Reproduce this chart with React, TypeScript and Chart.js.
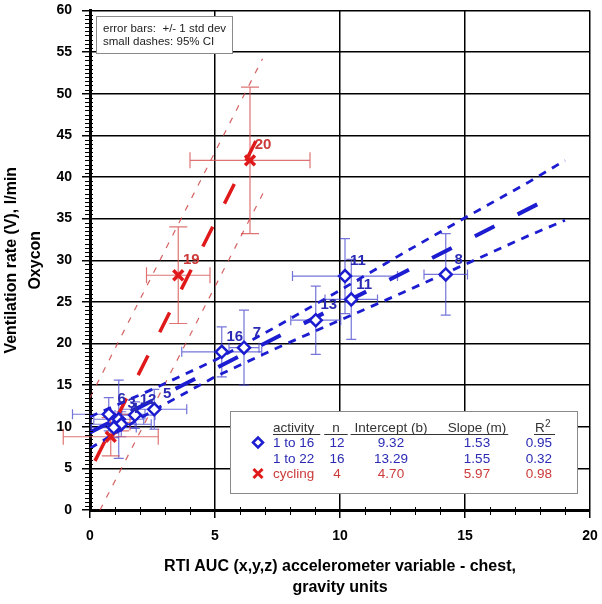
import React, { useEffect, useRef } from "react";
import { Chart, registerables } from "chart.js";

Chart.register(...registerables);

const FONT = "'Liberation Sans', Arial, Helvetica, sans-serif";

// ---- data ----
const blueLabels = ["6", "3", "4", "12", "5", "16", "7", "13", "11", "11", "8", ""];
const blueX = [0.75, 1.15, 1.25, 1.8, 2.57, 5.27, 6.16, 9.03, 10.2, 10.45, 14.23, 0.95];
const blueY = [11.5, 10.9, 10.3, 11.4, 12.1, 19.0, 19.5, 22.8, 28.1, 25.3, 28.3, 9.9];
const blueXErr = [1.45, 1.0, 1.2, 0.8, 1.3, 1.6, 0.6, 1.0, 2.1, 1.05, 0.87, 0.9];
const blueYErr = [2.0, 4.7, 1.5, 1.6, 2.4, 3.0, 4.5, 4.1, 4.5, 4.8, 4.9, 1.2];

const redLabels = ["", "", "19", "20"];
const redX = [0.83, 1.2, 3.53, 6.4];
const redY = [8.8, 10.5, 28.2, 42.0];
const redXErr = [1.9, 0.4, 1.27, 2.4];
const redYErr = [2.3, 1.0, 5.8, 8.8];

const blueFitX = [0, 18.6];
const blueFitY = [9.32, 37.8];
const blueCiX = [0, 2.5, 5, 7.5, 10, 12.5, 15, 17.5, 19];
const blueCiUpper = [11.2, 14.5, 18.0, 22.1, 26.4, 30.8, 35.1, 39.3, 42.0];
const blueCiLower = [7.4, 11.9, 16.0, 19.5, 22.8, 26.1, 29.5, 32.9, 34.8];

const redFitX = [0.2, 6.9];
const redFitY = [5.9, 45.9];
const redCiUpperX = [0.0, 6.9];
const redCiUpperY = [13.5, 54.2];
const redCiLowerX = [0.4, 7.0];
const redCiLowerY = [0.0, 38.5];

const noteLines = ["error bars:  +/- 1 std dev", "small dashes: 95% CI"];

const legendHeaders = ["activity", "n", "Intercept (b)", "Slope (m)", "R"];
const legendActivity = ["1 to 16", "1 to 22", "cycling"];
const legendN = ["12", "16", "4"];
const legendIntercept = ["9.32", "13.29", "4.70"];
const legendSlope = ["1.53", "1.55", "5.97"];
const legendR2 = ["0.95", "0.32", "0.98"];

const xTitle = ["RTI AUC (x,y,z) accelerometer variable - chest,", "gravity units"];
const yTitle = ["Ventilation rate (V), l/min", "Oxycon"];

const X_MIN = 0, X_MAX = 20, X_STEP = 5, X_MINOR = 1;
const Y_MIN = 0, Y_MAX = 60, Y_STEP = 5, Y_MINOR = 0.5;

const BLUE = "#1c1cd0";
const BLUE_TEXT = "#2a2ab4";
const RED = "#e01a1a";
const RED_TEXT = "#cc3a3a";

function pts(xs: number[], ys: number[]) {
  return xs.map((x, i) => ({ x, y: ys[i] }));
}

const errorBarPlugin = {
  id: "errorBars",
  beforeDatasetsDraw(chart: any) {
    const { ctx } = chart;
    const sx = chart.scales.x, sy = chart.scales.y;
    const draw = (X: number[], Y: number[], XE: number[], YE: number[], color: string, capV: number, capH: number) => {
      ctx.save();
      ctx.strokeStyle = color;
      ctx.lineWidth = 1.2;
      X.forEach((xv, i) => {
        const px = sx.getPixelForValue(xv), py = sy.getPixelForValue(Y[i]);
        const x0 = sx.getPixelForValue(xv - XE[i]), x1 = sx.getPixelForValue(xv + XE[i]);
        const y0 = sy.getPixelForValue(Y[i] + YE[i]), y1 = sy.getPixelForValue(Y[i] - YE[i]);
        ctx.beginPath();
        ctx.moveTo(x0, py); ctx.lineTo(x1, py);
        ctx.moveTo(x0, py - capH); ctx.lineTo(x0, py + capH);
        ctx.moveTo(x1, py - capH); ctx.lineTo(x1, py + capH);
        ctx.moveTo(px, y0); ctx.lineTo(px, y1);
        ctx.moveTo(px - capV, y0); ctx.lineTo(px + capV, y0);
        ctx.moveTo(px - capV, y1); ctx.lineTo(px + capV, y1);
        ctx.stroke();
      });
      ctx.restore();
    };
    draw(blueX, blueY, blueXErr, blueYErr, "rgba(70,70,205,0.75)", 5, 5);
    draw(redX, redY, redXErr, redYErr, "rgba(215,80,80,0.8)", 9, 8);
  },
  afterDatasetsDraw(chart: any) {
    const { ctx } = chart;
    const sx = chart.scales.x, sy = chart.scales.y;
    ctx.save();
    ctx.font = `bold 15px ${FONT}`;
    ctx.textAlign = "center";
    ctx.textBaseline = "middle";
    const lab = (X: number[], Y: number[], L: string[], color: string) => {
      ctx.fillStyle = color;
      X.forEach((xv, i) => {
        if (!L[i]) return;
        ctx.fillText(L[i], sx.getPixelForValue(xv) + 13, sy.getPixelForValue(Y[i]) - 15);
      });
    };
    lab(blueX, blueY, blueLabels, BLUE_TEXT);
    lab(redX, redY, redLabels, RED_TEXT);
    ctx.restore();
  },
};

const decorPlugin = {
  id: "decor",
  afterDraw(chart: any) {
    const { ctx } = chart;
    const sx = chart.scales.x, sy = chart.scales.y;
    const area = chart.chartArea;
    ctx.save();
    // minor ticks
    ctx.strokeStyle = "#000";
    ctx.lineWidth = 1;
    ctx.beginPath();
    for (let v = Y_MIN; v <= Y_MAX + 1e-9; v += Y_MINOR) {
      if (Math.abs(v / Y_STEP - Math.round(v / Y_STEP)) < 1e-6) continue;
      const py = Math.round(sy.getPixelForValue(v)) + 0.5;
      ctx.moveTo(area.left - 5, py); ctx.lineTo(area.left + 3, py);
    }
    for (let v = X_MIN; v <= X_MAX + 1e-9; v += X_MINOR) {
      if (Math.abs(v / X_STEP - Math.round(v / X_STEP)) < 1e-6) continue;
      const px = Math.round(sx.getPixelForValue(v)) + 0.5;
      ctx.moveTo(px, area.bottom - 3); ctx.lineTo(px, area.bottom + 5);
    }
    ctx.stroke();

    // note box (top-left)
    ctx.fillStyle = "#fff";
    ctx.fillRect(96, 16, 136, 37);
    ctx.strokeStyle = "#8a8a8a";
    ctx.lineWidth = 1;
    ctx.strokeRect(96.5, 16.5, 136, 37);
    ctx.fillStyle = "#222";
    ctx.font = `11.5px ${FONT}`;
    ctx.textAlign = "left";
    ctx.textBaseline = "middle";
    noteLines.forEach((t, i) => ctx.fillText(t, 103, 28.5 + i * 13.5));

    // regression table (bottom-right)
    const bx = 230, by = 411, bw = 347, bh = 82;
    ctx.fillStyle = "#fff";
    ctx.fillRect(bx, by, bw, bh);
    ctx.strokeStyle = "#8a8a8a";
    ctx.strokeRect(bx + 0.5, by + 0.5, bw, bh);

    ctx.font = `13.5px ${FONT}`;
    ctx.textBaseline = "alphabetic";
    const colX = [273, 336, 391, 477, 552];
    const headerY = 432;
    ctx.fillStyle = "#333";
    ctx.strokeStyle = "#333";
    ctx.lineWidth = 1;
    const drawUnder = (x0: number, x1: number) => {
      ctx.beginPath();
      ctx.moveTo(x0, headerY + 2.5);
      ctx.lineTo(x1, headerY + 2.5);
      ctx.stroke();
    };
    ctx.textAlign = "left";
    ctx.fillText(legendHeaders[0], colX[0], headerY);
    drawUnder(colX[0], colX[0] + ctx.measureText(legendHeaders[0]).width + 6);
    ctx.textAlign = "center";
    let w = ctx.measureText(legendHeaders[1]).width;
    ctx.fillText(legendHeaders[1], colX[1], headerY);
    drawUnder(colX[1] - w / 2 - 8, colX[1] + w / 2 + 8);
    w = ctx.measureText(legendHeaders[2]).width;
    ctx.fillText(legendHeaders[2], colX[2], headerY);
    drawUnder(colX[2] - w / 2 - 4, colX[2] + w / 2 + 18);
    w = ctx.measureText(legendHeaders[3]).width;
    ctx.fillText(legendHeaders[3], colX[3], headerY);
    drawUnder(colX[3] - w / 2 - 4, colX[3] + w / 2 + 2);
    ctx.textAlign = "left";
    ctx.fillText(legendHeaders[4], 535, headerY);
    ctx.font = `10px ${FONT}`;
    ctx.fillText("2", 545, headerY - 5);
    drawUnder(534, 555);
    ctx.font = `13.5px ${FONT}`;

    const rowY = [447, 463, 478];
    const rowColor = [BLUE_TEXT, BLUE_TEXT, RED_TEXT];
    rowY.forEach((ry, i) => {
      ctx.fillStyle = rowColor[i];
      ctx.textAlign = "left";
      ctx.fillText(legendActivity[i], colX[0], ry);
      ctx.textAlign = "center";
      ctx.fillText(legendN[i], colX[1] + 1, ry);
      ctx.fillText(legendIntercept[i], colX[2], ry);
      ctx.fillText(legendSlope[i], colX[3], ry);
      ctx.textAlign = "right";
      ctx.fillText(legendR2[i], colX[4], ry);
    });
    ctx.strokeStyle = BLUE;
    ctx.lineWidth = 2.5;
    ctx.fillStyle = "#fff";
    const mx = 258, my1 = 442.5, my3 = 473.5;
    ctx.beginPath();
    ctx.moveTo(mx - 5, my1); ctx.lineTo(mx, my1 - 5); ctx.lineTo(mx + 5, my1); ctx.lineTo(mx, my1 + 5); ctx.closePath();
    ctx.fill(); ctx.stroke();
    ctx.strokeStyle = RED;
    ctx.lineWidth = 3;
    ctx.beginPath();
    ctx.moveTo(mx - 4.5, my3 - 4.5); ctx.lineTo(mx + 4.5, my3 + 4.5);
    ctx.moveTo(mx + 4.5, my3 - 4.5); ctx.lineTo(mx - 4.5, my3 + 4.5);
    ctx.stroke();
    ctx.restore();
  },
};

export default function App() {
  const ref = useRef<HTMLCanvasElement>(null);
  useEffect(() => {
    document.body.style.margin = "0";
    const canvas = ref.current;
    if (!canvas) return;
    const lineDs = (data: any[], color: string, width: number, dash: number[]) => ({
      type: "scatter" as const,
      data,
      showLine: true,
      pointRadius: 0,
      borderColor: color,
      borderWidth: width,
      borderDash: dash,
      fill: false,
    });
    const tickFont = { family: FONT, size: 14, weight: "bold" as const };
    const chart = new Chart(canvas, {
      type: "scatter",
      data: {
        datasets: [
          {
            data: pts(blueX, blueY),
            pointStyle: "rectRot",
            pointRadius: 6,
            borderColor: BLUE,
            backgroundColor: "#ffffff",
            borderWidth: 2.5,
          },
          {
            data: pts(redX, redY),
            pointStyle: "crossRot",
            pointRadius: 7,
            borderColor: RED,
            backgroundColor: RED,
            borderWidth: 3.5,
          },
          lineDs(pts(blueFitX, blueFitY), BLUE, 4, [22, 26]),
          lineDs(pts(blueCiX, blueCiUpper), BLUE, 2.8, [8, 7]),
          lineDs(pts(blueCiX, blueCiLower), BLUE, 2.8, [8, 7]),
          lineDs(pts(redFitX, redFitY), RED, 3.5, [22, 26]),
          lineDs(pts(redCiUpperX, redCiUpperY), "rgba(205,70,70,0.85)", 1.2, [6, 8]),
          lineDs(pts(redCiLowerX, redCiLowerY), "rgba(205,70,70,0.85)", 1.2, [6, 8]),
        ] as any,
      },
      options: {
        responsive: false,
        animation: false,
        events: [],
        layout: { padding: { left: 0, right: 12, top: 10, bottom: 0 } },
        plugins: {
          legend: { display: false },
          tooltip: { enabled: false },
        },
        scales: {
          x: {
            type: "linear",
            min: X_MIN,
            max: X_MAX,
            ticks: { stepSize: X_STEP, color: "#000", font: tickFont, padding: 10, maxRotation: 0 },
            grid: { color: "#000", lineWidth: 1.5, tickLength: 8, drawTicks: true },
            border: { color: "#000", width: 3 },
            title: {
              display: true,
              text: xTitle,
              color: "#000",
              font: { family: FONT, size: 16, weight: "bold", lineHeight: 1.3 },
              padding: { top: 0, bottom: 6 },
            },
            afterFit: (s: any) => {
              s.height = 94;
              s.paddingLeft = 0;
              s.paddingRight = 0;
            },
          },
          y: {
            type: "linear",
            min: Y_MIN,
            max: Y_MAX,
            ticks: { stepSize: Y_STEP, color: "#000", font: tickFont, padding: 10 },
            grid: { color: "#000", lineWidth: 1.5, tickLength: 8, drawTicks: true },
            border: { color: "#000", width: 3 },
            title: {
              display: true,
              text: yTitle,
              color: "#000",
              font: { family: FONT, size: 16, weight: "bold", lineHeight: 1.5 },
              padding: { top: 0, bottom: 0 },
            },
            afterFit: (s: any) => {
              s.width = 90;
              s.paddingTop = 0;
              s.paddingBottom = 0;
            },
          },
        },
      } as any,
      plugins: [errorBarPlugin, decorPlugin],
    });
    return () => chart.destroy();
  }, []);
  return (
    <div style={{ width: 602, height: 604 }}>
      <canvas ref={ref} width={602} height={604} style={{ display: "block" }} />
    </div>
  );
}
